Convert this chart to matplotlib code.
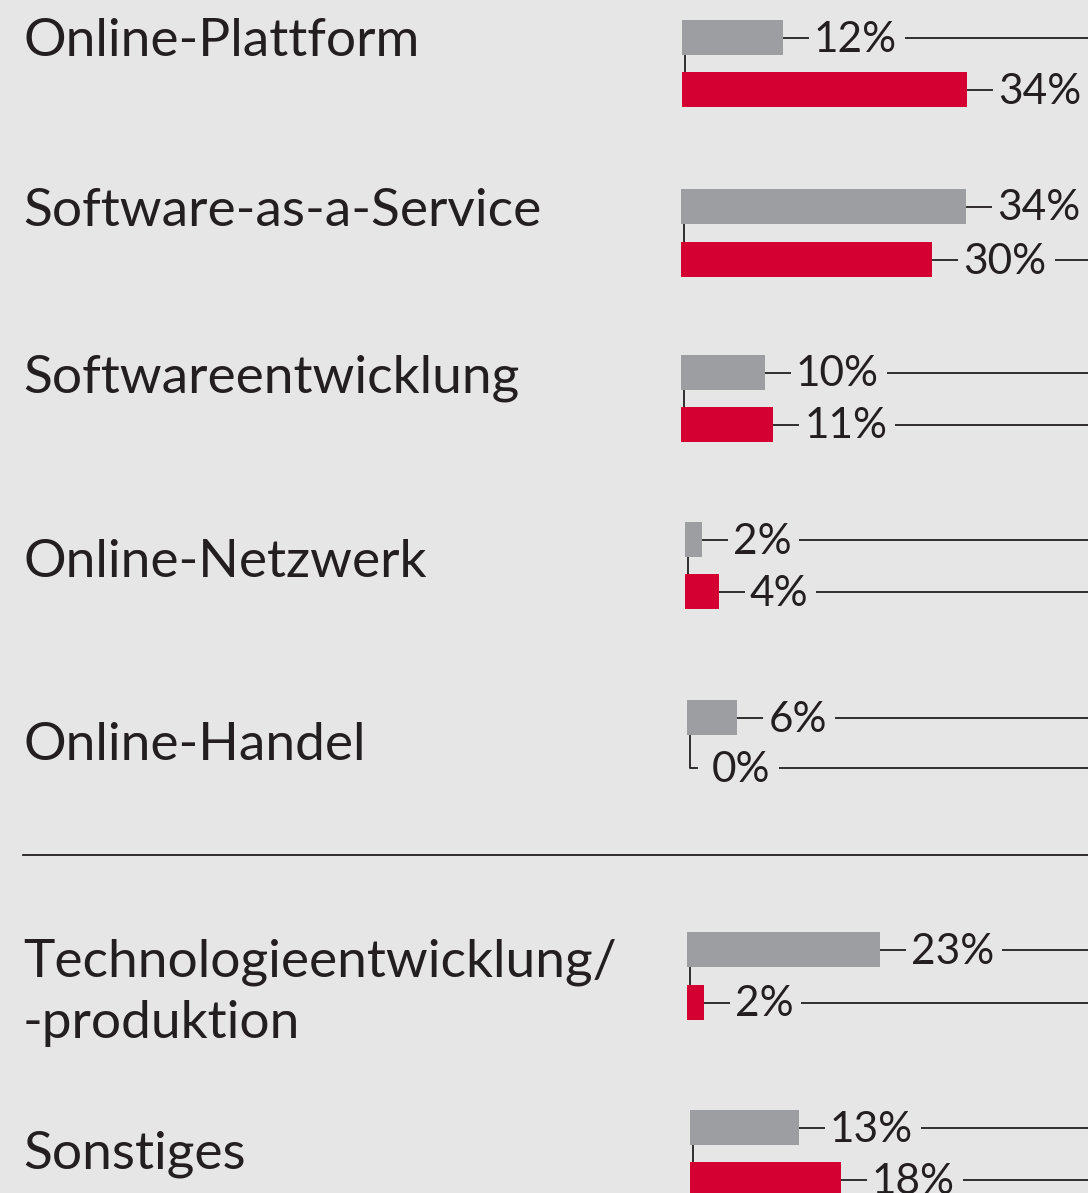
import matplotlib
matplotlib.use("Agg")
import matplotlib.pyplot as plt

# data
categories = ["Online-Plattform", "Software-as-a-Service", "Softwareentwicklung",
              "Online-Netzwerk", "Online-Handel", "Technologieentwicklung/\n-produktion",
              "Sonstiges"]
grey_vals = [12, 34, 10, 2, 6, 23, 13]
red_vals = [34, 30, 11, 4, 0, 2, 18]

# colours
bg = "#e6e6e6"
grey_c = "#9d9ea2"
red_c = "#d50032"
ink = "#231f20"

# layout (pixel space, y downwards)
W, H = 1088, 1193
px_per_pct = 8.38
bar_h = 35
bar_left = [682, 681, 681, 685, 687, 687, 690]
grey_y = [37.5, 206.5, 372.5, 539.5, 717.5, 949.5, 1127.5]
red_y = [89.5, 259.5, 424.5, 591.5, 768, 1002.5, 1179.5]
label_base = [56, 226, 393, 577, 760, 977, 1168]
line_step = 61
sep_y = 854.5

plt.rcParams['font.family'] = ['Lato', 'DejaVu Sans']

fig = plt.figure(figsize=(W / 100, H / 100), dpi=100)
fig.patch.set_facecolor(bg)
ax = fig.add_axes([0, 0, 1, 1])
ax.set_facecolor(bg)
ax.set_xlim(0, W)
ax.set_ylim(H, 0)
ax.axis("off")

lw = 1.3
texts = []
for i, cat in enumerate(categories):
    x0 = bar_left[i]
    for k, part in enumerate(cat.split("\n")):
        ax.text(23, label_base[i] + k * line_step, part, fontsize=38.3,
                fontweight="normal", color=ink, ha="left", va="baseline")
    for val, yc, col in ((grey_vals[i], grey_y[i], grey_c), (red_vals[i], red_y[i], red_c)):
        w = val * px_per_pct
        if val > 0:
            ax.barh(yc, w, left=x0, height=bar_h, color=col, linewidth=0, zorder=2)
            ax.plot([x0 + w, x0 + w + 26], [yc, yc], color=ink, lw=lw, solid_capstyle="butt")
            tx = x0 + w + 31
        else:
            tx = x0 + 25
        t = ax.text(tx, yc + 14, f"{val}%", fontsize=30.5, color=ink,
                    ha="left", va="baseline")
        texts.append((t, yc))
    # connector from grey bar to red bar
    cx = x0 + 3
    if red_vals[i] > 0:
        ax.plot([cx, cx], [grey_y[i] + bar_h / 2, red_y[i] - bar_h / 2],
                color=ink, lw=lw, zorder=1)
    else:
        ax.plot([cx, cx, cx + 7], [grey_y[i] + bar_h / 2, red_y[i], red_y[i]],
                color=ink, lw=lw, zorder=1)

# separator
ax.plot([23, W], [sep_y, sep_y], color=ink, lw=lw)

# long leader lines after each percentage label
fig.canvas.draw()
renderer = fig.canvas.get_renderer()
inv = ax.transData.inverted()
for t, yc in texts:
    bb = t.get_window_extent(renderer)
    xe = inv.transform((bb.x1, bb.y0))[0]
    ax.plot([xe + 8, W], [yc, yc], color=ink, lw=lw, solid_capstyle="butt")

fig.savefig("out.png", dpi=100, facecolor=bg)
